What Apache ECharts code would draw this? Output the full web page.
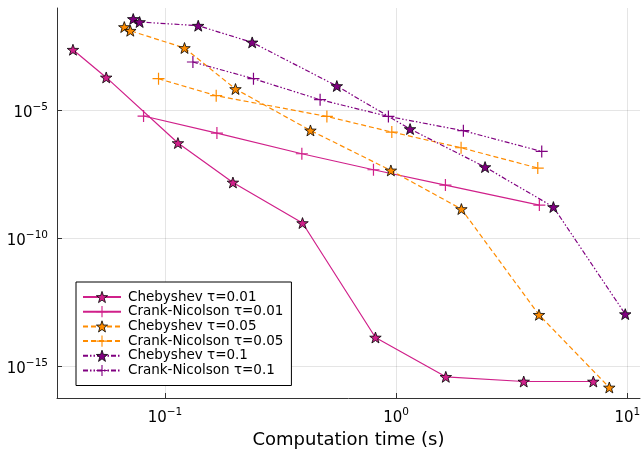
<!DOCTYPE html>
<html>
<head>
<meta charset="utf-8">
<script src="https://cdn.jsdelivr.net/npm/echarts@6/dist/echarts.min.js"></script>
<style>
	html, body { margin: 0; padding: 0; background: #fff; }
	#chart-container { width: 641px; height: 449px; }
</style>
</head>
<body>
<div id="chart-container"></div>
<script>
// computation time (s) and error for each run
var chebT001Time = [0.0400, 0.0557, 0.1138, 0.1968, 0.3936, 0.814, 1.640, 3.565, 7.13];
var chebT001Err  = [2.33e-3, 1.92e-4, 5.2e-7, 1.49e-8, 3.85e-10, 1.28e-14, 3.7e-16, 2.43e-16, 2.43e-16];
var cnT001Time   = [0.0808, 0.1678, 0.391, 0.798, 1.634, 4.165];
var cnT001Err    = [5.93e-6, 1.28e-6, 1.98e-7, 4.69e-8, 1.18e-8, 1.95e-9];
var chebT005Time = [0.0667, 0.0708, 0.1215, 0.2019, 0.426, 0.949, 1.916, 4.15, 8.36];
var chebT005Err  = [1.80e-2, 1.29e-2, 2.72e-3, 6.76e-5, 1.62e-6, 4.41e-8, 1.36e-9, 9.9e-14, 1.42e-16];
var cnT005Time   = [0.0938, 0.1666, 0.5018, 0.958, 1.910, 4.10];
var cnT005Err    = [1.71e-4, 3.70e-5, 5.71e-6, 1.40e-6, 3.40e-7, 5.47e-8];
var chebT01Time  = [0.0729, 0.0777, 0.1393, 0.2384, 0.554, 1.149, 2.425, 4.79, 9.80];
var chebT01Err   = [3.72e-2, 2.83e-2, 2.03e-2, 4.51e-3, 8.85e-5, 1.84e-6, 5.98e-8, 1.63e-9, 1.05e-13];
var cnT01Time    = [0.1321, 0.2415, 0.469, 0.926, 1.954, 4.265];
var cnT01Err     = [7.70e-4, 1.71e-4, 2.58e-5, 5.71e-6, 1.58e-6, 2.44e-7];

// tick labels are powers of ten (exponents)
var xTickExp = [-1, 0, 1];
var yTickExp = [-15, -10, -5];
var timeRange = [Math.pow(10, -1.467), Math.pow(10, 1.055)];
var errRange = [Math.pow(10, -16.26), Math.pow(10, -1.0)];

var STAR = 'path://M0,-10L2.35,-3.24L9.51,-3.09L3.8,1.24L5.88,8.09L0,4L-5.88,8.09L-3.8,1.24L-9.51,-3.09L-2.35,-3.24Z';
var PLUS = 'path://M-1,-10L1,-10L1,-1L10,-1L10,1L1,1L1,10L-1,10L-1,1L-10,1L-10,-1L-1,-1Z';
var FONT = 'DejaVu Sans';

function pairs(xs, ys) {
	return xs.map(function (x, i) { return [x, ys[i]]; });
}

function powLabel(v) {
	var e = Math.round(v);
	return '{b|10}{s|' + String(e).replace('-', '\u2212') + '}';
}

var richPow = {
	b: { fontSize: 15, fontFamily: FONT, color: '#000', padding: [6, 0, 0, 0] },
	s: { fontSize: 10.5, fontFamily: FONT, color: '#000', padding: [0, 0, 6, 0] }
};

function markerStyle(color, marker) {
	var isStar = marker === STAR;
	return {
		color: color,
		borderColor: isStar ? '#000' : color,
		borderWidth: isStar ? 0.8 : 0
	};
}

function makeSeries(name, xs, ys, color, marker, dash) {
	return {
		name: name,
		type: 'line',
		xAxisIndex: 0,
		yAxisIndex: 0,
		data: pairs(xs, ys),
		symbol: marker,
		symbolSize: marker === STAR ? 11.5 : 12,
		symbolKeepAspect: true,
		showAllSymbol: true,
		lineStyle: { color: color, width: 1.2, type: dash },
		itemStyle: markerStyle(color, marker),
		emphasis: { disabled: true }
	};
}

var magenta = '#d0208a';
var orange = '#ff8c00';
var purple = '#800080';
var dashed = [5, 3];
var dashDotDot = [5, 2, 1.5, 2, 1.5, 2];

var seriesList = [
	makeSeries('Chebyshev \u03c4=0.01', chebT001Time, chebT001Err, magenta, STAR, 'solid'),
	makeSeries('Crank-Nicolson \u03c4=0.01', cnT001Time, cnT001Err, magenta, PLUS, 'solid'),
	makeSeries('Chebyshev \u03c4=0.05', chebT005Time, chebT005Err, orange, STAR, dashed),
	makeSeries('Crank-Nicolson \u03c4=0.05', cnT005Time, cnT005Err, orange, PLUS, dashed),
	makeSeries('Chebyshev \u03c4=0.1', chebT01Time, chebT01Err, purple, STAR, dashDotDot),
	makeSeries('Crank-Nicolson \u03c4=0.1', cnT01Time, cnT01Err, purple, PLUS, dashDotDot)
];

var chart = echarts.init(document.getElementById('chart-container'));
var option = {
	animation: false,
	backgroundColor: '#fff',
	grid: { left: 57, right: 1, top: 8, bottom: 51, outerBoundsMode: 'none', containLabel: false },
	legend: {
		orient: 'vertical',
		left: 76,
		top: 282,
		padding: [8, 8, 8, 6],
		itemWidth: 38,
		itemHeight: 14,
		itemGap: 0.7,
		borderColor: '#000',
		borderWidth: 1,
		backgroundColor: '#fff',
		data: seriesList.map(function (s) {
			return { name: s.name, itemStyle: s.itemStyle };
		}),
		textStyle: { fontFamily: FONT, fontSize: 13.5, color: '#000', padding: [0, 0, 0, 2] }
	},
	xAxis: [
		{ type: 'log', show: false, min: timeRange[0], max: timeRange[1] },
		{
			type: 'value',
			position: 'bottom',
			min: Math.log10(timeRange[0]),
			max: Math.log10(timeRange[1]),
			name: 'Computation time (s)',
			nameLocation: 'middle',
			nameGap: 31,
			nameTextStyle: { fontFamily: FONT, fontSize: 18, color: '#000' },
			axisLine: { show: true, lineStyle: { color: '#333', width: 1 } },
			axisTick: { show: true, inside: true, length: 5, customValues: xTickExp, lineStyle: { color: '#333' } },
			axisLabel: { customValues: xTickExp, margin: 7, formatter: powLabel, rich: richPow },
			splitLine: { show: true, lineStyle: { color: 'rgba(0,0,0,0.1)', width: 1 } }
		}
	],
	yAxis: [
		{ type: 'log', show: false, min: errRange[0], max: errRange[1] },
		{
			type: 'value',
			position: 'left',
			min: Math.log10(errRange[0]),
			max: Math.log10(errRange[1]),
			axisLine: { show: true, lineStyle: { color: '#333', width: 1 } },
			axisTick: { show: true, inside: true, length: 5, customValues: yTickExp, lineStyle: { color: '#333' } },
			axisLabel: { customValues: yTickExp, margin: 9, formatter: powLabel, rich: richPow },
			splitLine: { show: true, lineStyle: { color: 'rgba(0,0,0,0.1)', width: 1 } }
		}
	],
	series: seriesList
};

chart.setOption(option);
</script>
</body>
</html>
